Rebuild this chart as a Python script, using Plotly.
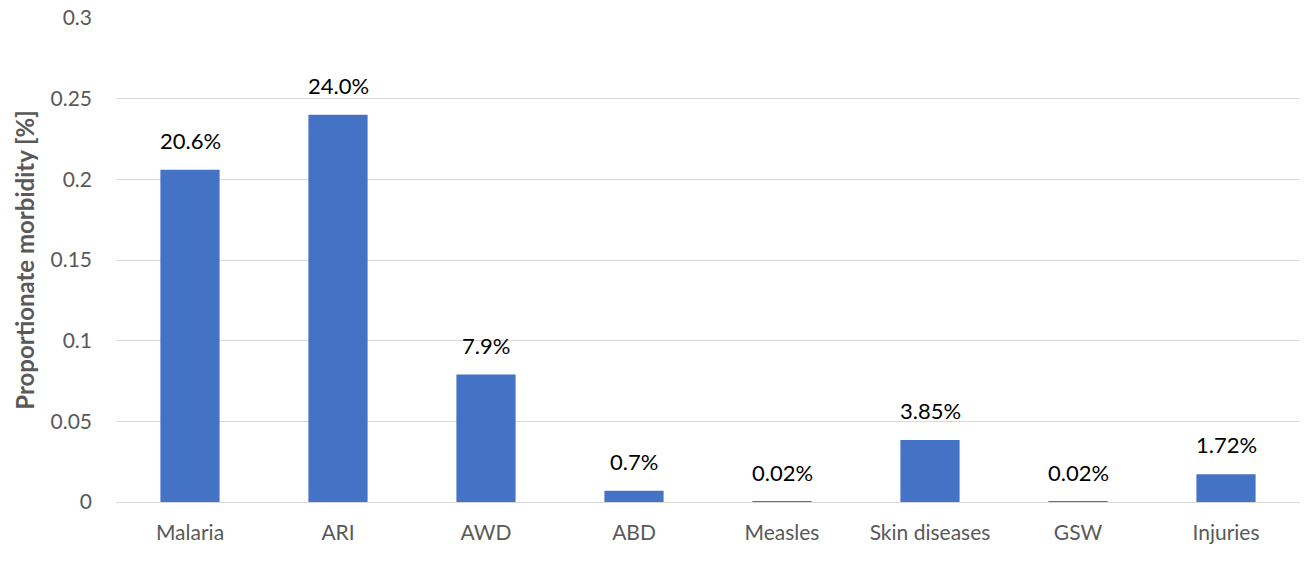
import plotly.graph_objects as go

categories = ["Malaria", "ARI", "AWD", "ABD", "Measles", "Skin diseases", "GSW", "Injuries"]
morbidity = [0.206, 0.240, 0.079, 0.007, 0.0002, 0.0385, 0.0002, 0.0172]
label_decimals = [1, 1, 1, 1, 2, 2, 2, 2]
y_ticks = [0, 0.05, 0.1, 0.15, 0.2, 0.25, 0.3]
y_tick_text = ["0", "0.05", "0.1", "0.15", "0.2", "0.25", "0.3"]

labels = [f"{v * 100:.{d}f}%" for v, d in zip(morbidity, label_decimals)]

FONT = "Lato, Open Sans, Liberation Sans, sans-serif"

fig = go.Figure(
    go.Bar(
        x=categories,
        y=morbidity,
        marker=dict(color="#4472C4", line=dict(width=0)),
        hoverinfo="x+y",
    )
)

for cat, v, lab in zip(categories, morbidity, labels):
    fig.add_annotation(
        x=cat, y=v, text=lab, showarrow=False,
        yanchor="bottom", yshift=14,
        font=dict(family=FONT, size=22, color="#000000"),
    )

fig.update_layout(
    width=1304, height=571,
    margin=dict(l=116, r=4, t=18, b=69),
    paper_bgcolor="white", plot_bgcolor="white",
    bargap=0.6,
    showlegend=False,
    font=dict(family=FONT, color="#595959"),
)
fig.update_xaxes(
    showgrid=False, showline=False, ticks="",
    tickfont=dict(size=21, color="#595959"),
    ticklabelstandoff=16,
)
fig.update_yaxes(
    range=[0, 0.3],
    tickvals=y_ticks, ticktext=y_tick_text,
    showgrid=True, gridcolor="#D9D9D9", gridwidth=1,
    zeroline=True, zerolinecolor="#D9D9D9", zerolinewidth=1,
    showline=False, ticks="",
    tickfont=dict(size=21, color="#595959"),
    ticklabelstandoff=23,
    title=dict(text="<b>Proportionate morbidity [%]</b>", font=dict(size=24, color="#595959"), standoff=9),
)

fig.write_html("out.html")
